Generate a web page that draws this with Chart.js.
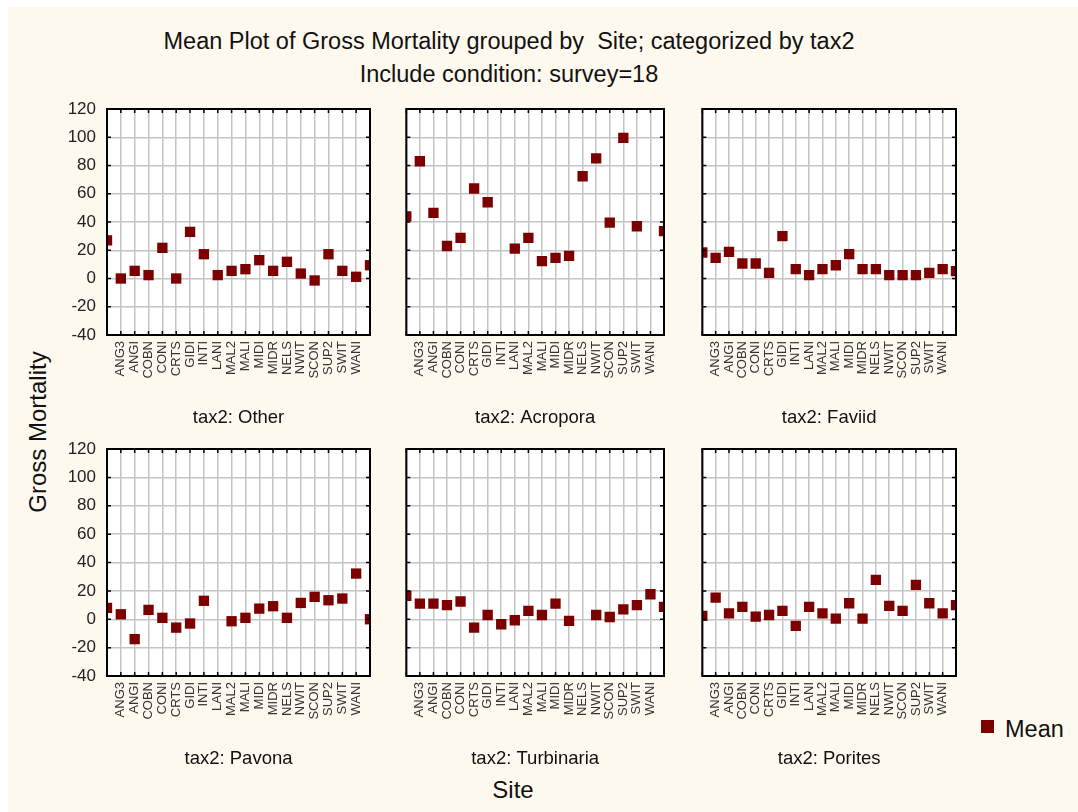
<!DOCTYPE html>
<html>
<head>
<meta charset="utf-8">
<script src="https://cdn.jsdelivr.net/npm/chart.js@4/dist/chart.umd.min.js"></script>
<style>
  html, body { margin: 0; padding: 0; background: #fff; }
  #page { position: absolute; left: 8px; top: 7px; width: 1070px; height: 805px; background: #fef9ee; }
  canvas { position: absolute; }
  .txt { position: absolute; font-family: "Liberation Sans", Arial, sans-serif; color: #111; white-space: nowrap; }
</style>
</head>
<body>
<div id="page"></div>
<div class="txt" style="left:0;width:1018px;top:25px;text-align:center;font-size:23.5px;line-height:33px;">Mean Plot of Gross Mortality grouped by &nbsp;Site; categorized by tax2<br>Include condition: survey=18</div>
<div class="txt" style="left:38px;top:432px;font-size:24px;transform:translate(-50%,-50%) rotate(-90deg);">Gross Mortality</div>
<div class="txt" style="left:513px;top:790px;font-size:24px;transform:translate(-50%,-50%);">Site</div>
<div style="position:absolute;left:981px;top:720px;width:13px;height:13px;background:#7d0000;"></div>
<div class="txt" style="left:1005px;top:715px;font-size:23.5px;line-height:28px;">Mean</div>

<canvas id="p1"></canvas>
<canvas id="p2"></canvas>
<canvas id="p3"></canvas>
<canvas id="p4"></canvas>
<canvas id="p5"></canvas>
<canvas id="p6"></canvas>

<script>
// categories: the first and last positions sit on the frame and carry no label
var sites = ['', 'ANG3', 'ANGI', 'COBN', 'CONI', 'CRTS', 'GIDI', 'INTI', 'LANI', 'MAL2',
  'MALI', 'MIDI', 'MIDR', 'NELS', 'NWIT', 'SCON', 'SUP2', 'SWIT', 'WANI', ''];

// mean gross mortality per site, one array per tax2 group
var other      = [27, 0, 5.4, 2.4, 21.7, 0, 33, 17.2, 2.4, 5.4, 6.6, 13, 5.4, 11.8, 3.5, -1.4, 17.2, 5.4, 1.2, 9.4];
var acropora   = [44, 83, 46.5, 23, 28.8, 63.7, 54, null, 21.2, 28.8, 12.3, 14.6, 16, 72.4, 85, 39.6, 99.5, 37, null, 33.5];
var faviid     = [18.4, 14.6, 18.9, 10.6, 10.6, 4, 30, 6.6, 2.4, 6.6, 9.4, 17.2, 6.6, 6.6, 2.4, 2.4, 2.4, 4, 6.6, 5.2];
var pavona     = [8, 3.5, -14, 6.6, 1, -5.9, -3, 13, null, -1.4, 1, 7.5, 9.2, 1, 11.5, 15.8, 13.4, 14.6, 32.2, 0];
var turbinaria = [16.5, 11, 11, 9.9, 12.5, -5.9, 3, -3.5, -0.7, 5.9, 3, 11, -1.2, null, 3, 1.6, 7, 9.9, 17.6, 8.7];
var porites    = [2.4, 15.3, 4.2, 8.7, 1.9, 3, 5.9, -4.7, 8.7, 4.2, 0.5, 11.3, 0.5, 27.8, 9.4, 5.9, 24.2, 11.3, 4.2, 9.9];

var captions = ['tax2: Other', 'tax2: Acropora', 'tax2: Faviid', 'tax2: Pavona', 'tax2: Turbinaria', 'tax2: Porites'];

// y axis scale
var yMin = -40, yMax = 120, yStep = 20;

var FONT = '"Liberation Sans", Arial, sans-serif';
var MARK = '#7d0000';
var Y_W = 62;      // width reserved for y tick labels (left column only)
var X_H = 100;     // height under the plot for site labels + caption
var PAD_T = 14, PAD_R = 8;

// white plot background
var plotBg = {
  id: 'plotBg',
  beforeDraw: function (chart) {
    var a = chart.chartArea, ctx = chart.ctx;
    ctx.save();
    ctx.fillStyle = '#fff';
    ctx.fillRect(a.left, a.top, a.right - a.left, a.bottom - a.top);
    ctx.restore();
  }
};

// frame + inward tick marks, drawn over the data like the original
var framePlugin = {
  id: 'frame',
  afterDraw: function (chart) {
    var a = chart.chartArea, ctx = chart.ctx;
    var xs = chart.scales.x, ys = chart.scales.y;
    ctx.save();
    ctx.strokeStyle = '#000';
    ctx.lineWidth = 1.5;
    ctx.beginPath();
    xs.ticks.forEach(function (t, i) {
      var px = xs.getPixelForTick(i);
      ctx.moveTo(px, a.top); ctx.lineTo(px, a.top + 4);
      ctx.moveTo(px, a.bottom); ctx.lineTo(px, a.bottom - 4);
    });
    ys.ticks.forEach(function (t, i) {
      var py = ys.getPixelForTick(i);
      ctx.moveTo(a.left, py); ctx.lineTo(a.left + 4, py);
      ctx.moveTo(a.right, py); ctx.lineTo(a.right - 4, py);
    });
    ctx.stroke();
    ctx.lineWidth = 2;
    ctx.strokeRect(a.left, a.top, a.right - a.left, a.bottom - a.top);
    ctx.restore();
  }
};

function makePanel(id, values, caption, box, showY) {
  var canvas = document.getElementById(id);
  var yw = showY ? Y_W : 0;
  var w = yw + box.w + PAD_R, h = PAD_T + box.h + X_H;
  canvas.width = w; canvas.height = h;
  canvas.style.left = (box.x - yw) + 'px';
  canvas.style.top = (box.y - PAD_T) + 'px';
  canvas.style.width = w + 'px';
  canvas.style.height = h + 'px';

  return new Chart(canvas.getContext('2d'), {
    type: 'line',
    data: {
      labels: sites,
      datasets: [{
        label: 'Mean',
        data: values,
        showLine: false,
        pointStyle: 'rect',
        pointRadius: 7.3,
        pointHoverRadius: 7.3,
        pointBackgroundColor: MARK,
        pointBorderColor: MARK,
        pointBorderWidth: 0,
        clip: 0
      }]
    },
    options: {
      responsive: false,
      animation: false,
      events: [],
      layout: { padding: { top: PAD_T, right: PAD_R, left: 0, bottom: 0 } },
      plugins: { legend: { display: false }, tooltip: { enabled: false } },
      scales: {
        x: {
          offset: false,
          grid: { color: '#c4c4c4', lineWidth: 1.5, drawTicks: false, offset: false },
          border: { display: false },
          ticks: {
            autoSkip: false, maxRotation: 90, minRotation: 90, padding: 6,
            color: '#333', font: { family: FONT, size: 13 }
          },
          title: {
            display: true, text: caption, color: '#111',
            font: { family: FONT, size: 18.5 }, padding: { top: 0, bottom: 6 }
          },
          afterFit: function (s) {
            s.height = X_H;
            s.paddingLeft = 0; s.paddingRight = 0;
          }
        },
        y: {
          min: yMin, max: yMax,
          grid: { color: '#c4c4c4', lineWidth: 1.5, drawTicks: false },
          border: { display: false },
          ticks: {
            stepSize: yStep, padding: 11,
            color: showY ? '#222' : 'rgba(0,0,0,0)',
            font: { family: FONT, size: 17 }
          },
          afterFit: function (s) {
            s.width = yw;
            s.paddingTop = 0; s.paddingBottom = 0;
          }
        }
      }
    },
    plugins: [plotBg, framePlugin]
  });
}

makePanel('p1', other,      captions[0], { x: 107, y: 109, w: 263, h: 226 }, true);
makePanel('p2', acropora,   captions[1], { x: 399, y: 109, w: 265, h: 226 }, false);
makePanel('p3', faviid,     captions[2], { x: 695, y: 109, w: 261, h: 226 }, false);
makePanel('p4', pavona,     captions[3], { x: 107, y: 449, w: 263, h: 227 }, true);
makePanel('p5', turbinaria, captions[4], { x: 399, y: 449, w: 265, h: 227 }, false);
makePanel('p6', porites,    captions[5], { x: 695, y: 449, w: 261, h: 227 }, false);
</script>
</body>
</html>
